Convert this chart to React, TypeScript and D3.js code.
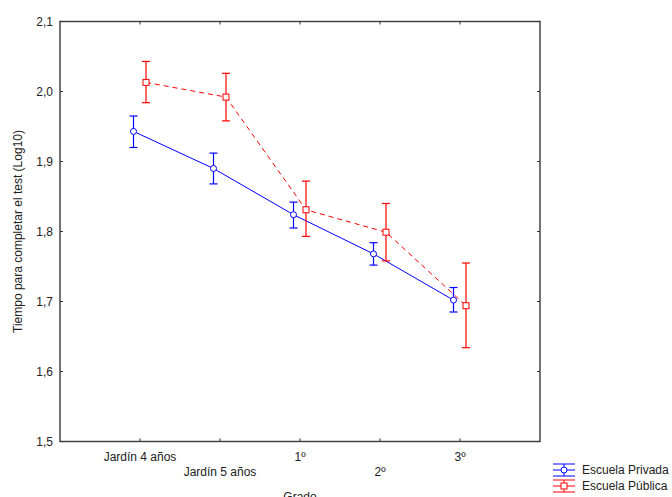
import React, { useEffect, useRef } from 'react';
import * as d3 from 'd3';

// grades on the x axis
const grados = ['Jardín 4 años', 'Jardín 5 años', '1º', '2º', '3º'];
const yTicks = [1.5, 1.6, 1.7, 1.8, 1.9, 2.0, 2.1];

// Escuela Privada: mean and 95% CI
const privadaMedia = [1.943, 1.890, 1.824, 1.768, 1.702];
const privadaAlto = [1.965, 1.912, 1.842, 1.784, 1.720];
const privadaBajo = [1.920, 1.868, 1.805, 1.752, 1.685];

// Escuela Pública
const publicaMedia = [2.013, 1.992, 1.831, 1.799, 1.694];
const publicaAlto = [2.043, 2.026, 1.872, 1.840, 1.755];
const publicaBajo = [1.984, 1.958, 1.793, 1.758, 1.634];

const series = [
    { name: 'Escuela Privada', color: '#0000ff', dash: null, marker: 'circle', shift: -6.5, media: privadaMedia, alto: privadaAlto, bajo: privadaBajo },
    { name: 'Escuela Pública', color: '#ff0000', dash: '5,4', marker: 'square', shift: 6, media: publicaMedia, alto: publicaAlto, bajo: publicaBajo },
];

export default function App() {
    const ref = useRef<SVGSVGElement>(null);

    useEffect(() => {
        const svg = d3.select(ref.current);
        svg.selectAll('*').remove();

        const left = 60, right = 540, top = 21.5, bottom = 441.5;
        const font = 'Arial, "Liberation Sans", sans-serif';
        const textColor = '#222';

        const x = d3.scaleLinear().domain([-1, grados.length]).range([left, right]);
        const y = d3.scaleLinear().domain([1.5, 2.1]).range([bottom, top]);

        // frame
        svg.append('rect')
            .attr('x', left).attr('y', top)
            .attr('width', right - left).attr('height', bottom - top)
            .attr('fill', 'none').attr('stroke', '#444').attr('stroke-width', 1.5);

        // inward ticks
        const tk = svg.append('g').attr('stroke', '#333').attr('stroke-width', 1);
        grados.forEach((_, i) => {
            tk.append('line').attr('x1', x(i)).attr('x2', x(i)).attr('y1', bottom).attr('y2', bottom - 3);
            tk.append('line').attr('x1', x(i)).attr('x2', x(i)).attr('y1', top).attr('y2', top + 3);
        });
        yTicks.forEach(t => {
            tk.append('line').attr('x1', left).attr('x2', left + 3).attr('y1', y(t)).attr('y2', y(t));
            tk.append('line').attr('x1', right).attr('x2', right - 3).attr('y1', y(t)).attr('y2', y(t));
        });

        // y tick labels
        svg.append('g').selectAll('text').data(yTicks).enter().append('text')
            .attr('x', 53).attr('y', d => y(d) + 4)
            .attr('text-anchor', 'end')
            .attr('font-family', font).attr('font-size', 12).attr('fill', textColor)
            .text(d => d3.format('.1f')(d).replace('.', ','));

        // x tick labels, staggered
        svg.append('g').selectAll('text').data(grados).enter().append('text')
            .attr('x', (d, i) => x(i)).attr('y', (d, i) => (i % 2 === 0 ? 461 : 476))
            .attr('text-anchor', 'middle')
            .attr('font-family', font).attr('font-size', 12).attr('fill', textColor)
            .text(d => d);

        // axis titles
        svg.append('text')
            .attr('x', (left + right) / 2).attr('y', 501)
            .attr('text-anchor', 'middle')
            .attr('font-family', font).attr('font-size', 12).attr('fill', textColor)
            .text('Grado');
        svg.append('text')
            .attr('transform', `translate(22,${(top + bottom) / 2}) rotate(-90)`)
            .attr('text-anchor', 'middle')
            .attr('font-family', font).attr('font-size', 12).attr('fill', textColor)
            .text('Tiempo para completar el test (Log10)');

        series.forEach(s => {
            const g = svg.append('g');
            const px = (i: number) => x(i) + s.shift;

            const line = d3.line<number>().x((d, i) => px(i)).y(d => y(d));
            g.append('path')
                .attr('d', line(s.media))
                .attr('fill', 'none').attr('stroke', s.color).attr('stroke-width', 1)
                .attr('stroke-dasharray', s.dash);

            // error bars
            s.media.forEach((m, i) => {
                const cx = px(i);
                g.append('line').attr('x1', cx).attr('x2', cx).attr('y1', y(s.alto[i])).attr('y2', y(s.bajo[i]))
                    .attr('stroke', s.color).attr('stroke-width', 1.2);
                [s.alto[i], s.bajo[i]].forEach(v => {
                    g.append('line').attr('x1', cx - 4).attr('x2', cx + 4).attr('y1', y(v)).attr('y2', y(v))
                        .attr('stroke', s.color).attr('stroke-width', 1.2);
                });
            });

            // markers
            s.media.forEach((m, i) => {
                if (s.marker === 'circle') {
                    g.append('circle').attr('cx', px(i)).attr('cy', y(m)).attr('r', 3)
                        .attr('fill', '#fff').attr('stroke', s.color).attr('stroke-width', 1);
                } else {
                    g.append('rect').attr('x', px(i) - 3).attr('y', y(m) - 3).attr('width', 6).attr('height', 6)
                        .attr('fill', '#fff').attr('stroke', s.color).attr('stroke-width', 1);
                }
            });
        });

        // legend
        series.forEach((s, k) => {
            const ly = 470 + k * 16;
            const lx = 564;
            const g = svg.append('g').attr('stroke', s.color).attr('stroke-width', 1);
            g.append('line').attr('x1', lx - 11).attr('x2', lx + 11).attr('y1', ly - 6).attr('y2', ly - 6);
            g.append('line').attr('x1', lx - 11).attr('x2', lx + 11).attr('y1', ly).attr('y2', ly);
            g.append('line').attr('x1', lx - 11).attr('x2', lx + 11).attr('y1', ly + 6).attr('y2', ly + 6);
            g.append('line').attr('x1', lx).attr('x2', lx).attr('y1', ly - 6).attr('y2', ly + 6);
            if (s.marker === 'circle') {
                g.append('circle').attr('cx', lx).attr('cy', ly).attr('r', 3).attr('fill', '#fff');
            } else {
                g.append('rect').attr('x', lx - 3).attr('y', ly - 3).attr('width', 6).attr('height', 6).attr('fill', '#fff');
            }
            svg.append('text')
                .attr('x', 582).attr('y', ly + 4)
                .attr('font-family', font).attr('font-size', 12).attr('fill', textColor)
                .text(s.name);
        });
    }, []);

    return (
        <svg ref={ref} width={672} height={497}
            style={{ position: 'absolute', left: 0, top: 0, background: '#fff' }} />
    );
}
